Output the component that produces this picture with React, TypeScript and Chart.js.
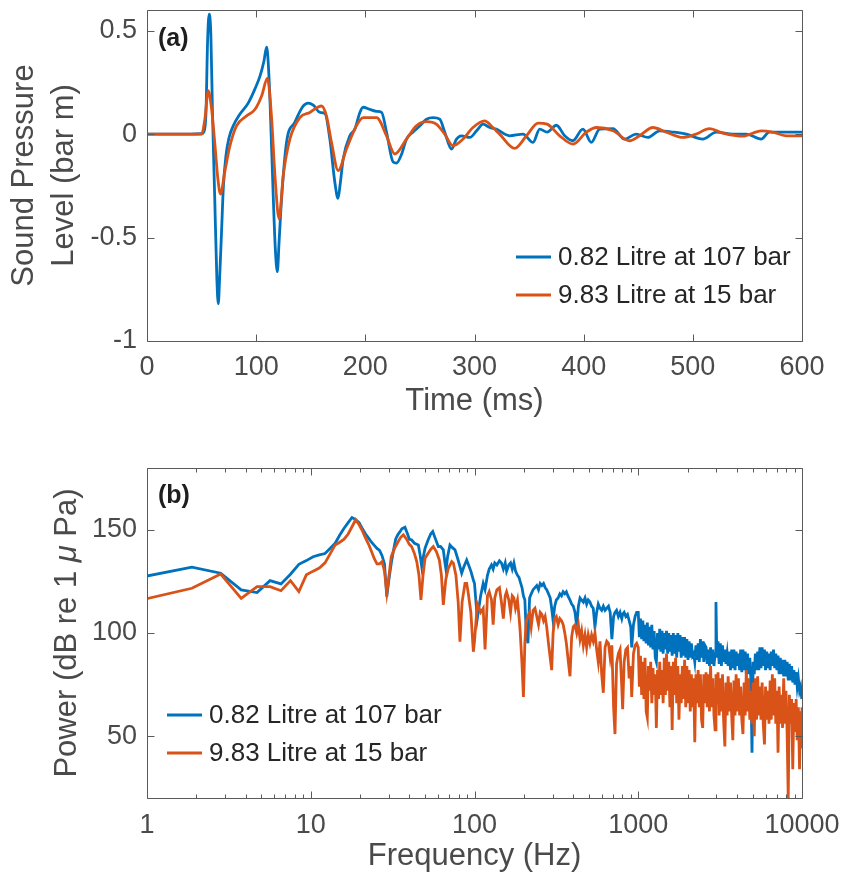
import React, { useEffect, useRef } from 'react';
import { Chart, registerables } from 'chart.js';
Chart.register(...registerables);

// ---------- Panel (a): time series ----------
const seriesLabels = ['0.82 Litre at 107 bar', '9.83 Litre at 15 bar'];

const timeBlue = [
  0, 20, 40, 50, 52, 54, 55.5, 57, 58.5, 60,
  62, 64, 65.3, 66.5, 68.3, 70, 72.3, 75, 79, 85,
  92.7, 99, 103.5, 107, 109.6, 111, 112.6, 115.7, 117.5, 119.4,
  121, 123.3, 127.8, 135.4, 143, 147.6, 152.3, 158.4, 163, 167.5,
  172, 175, 177, 179.7, 185.8, 190.4, 195, 198, 204, 210.3,
  214.9, 219.4, 225.5, 228.5, 233, 237.7, 243.8, 250, 256, 262,
  268.2, 272.7, 278.9, 283.5, 287.9, 295.8, 301.9, 307.9, 314, 320,
  332, 344.5, 353.6, 359.7, 366.5, 375, 382.6, 390, 399.3, 407,
  414.6, 426.8, 437.5, 448, 458.8, 469.6, 481.8, 494, 509, 521.5,
  536.7, 548.9, 562.6, 570, 585.5, 600,
];
const pressureBlue = [
  0, 0, 0, 0.002, 0.01, 0.1, 0.45, 0.58, 0.48, 0.1,
  -0.3, -0.7, -0.82, -0.7, -0.47, -0.25, -0.105, -0.02, 0.04, 0.096,
  0.15, 0.22, 0.28, 0.35, 0.42, 0.35, 0.17, -0.31, -0.55, -0.665,
  -0.52, -0.31, -0.04, 0.057, 0.135, 0.15, 0.14, 0.105, 0.1, -0.024,
  -0.23, -0.31, -0.24, -0.12, -0.008, 0.024, 0.105, 0.13, 0.12, 0.11,
  0.105, 0.01, -0.135, -0.14, -0.1, -0.024, 0.01, 0.04, 0.072, 0.08,
  0.072, 0.01, -0.072, -0.024, -0.008, -0.016, 0.016, 0.048, 0.032, 0.024,
  -0.008, 0.0, -0.04, 0.024, 0.01, 0.043, -0.008, -0.032, 0.024, -0.04,
  0.024, 0.027, -0.024, 0.0, -0.016, 0.016, 0.01, 0.0, -0.024, 0.01,
  0.0, 0.0, -0.024, 0.01, 0.01, 0.01,
];

const timeOrange = [
  0, 50, 53, 56.1, 59.2, 62.3, 65, 67.3, 71.3, 76,
  82, 91.2, 99, 105, 110.3, 114, 117.2, 121, 124.8, 130.9,
  140, 149.2, 159.9, 164.4, 169, 175.1, 182.7, 191.8, 198, 210.3,
  219.4, 227, 237.7, 246.8, 256, 265, 272.7, 280.3, 289.5, 298.6,
  309.3, 316.9, 323, 336.9, 347.6, 358.3, 366.5, 378, 390.3, 402.5,
  411.7, 426.8, 442, 451.2, 463.4, 475.6, 490.9, 503, 515.3, 527.5,
  545.8, 562.6, 573, 585.5, 600,
];
const pressureOrange = [
  0, 0, 0.072, 0.21, 0.12, -0.056, -0.22, -0.29, -0.18, -0.056,
  0.04, 0.088, 0.12, 0.184, 0.27, 0.088, -0.2, -0.41, -0.2, -0.024,
  0.08, 0.105, 0.136, 0.088, -0.04, -0.176, -0.072, 0.04, 0.08, 0.08,
  -0.008, -0.096, -0.024, 0.04, 0.06, 0.048, 0.0, -0.056, -0.024, 0.032,
  0.064, 0.032, 0.0, -0.069, -0.008, 0.053, 0.048, -0.008, -0.048, 0.01,
  0.032, 0.016, -0.032, -0.008, 0.032, 0.01, -0.016, 0.0, 0.027, 0.005,
  -0.01, 0.016, 0.01, -0.008, -0.008,
];

const timeTicks = [0, 100, 200, 300, 400, 500, 600];
const pressureTicks = [-1, -0.5, 0, 0.5];

// ---------- Panel (b): spectrum ----------
const freqLowBlue = [
  0.94, 1.88, 2.82, 3.76, 4.7, 5.64, 6.58, 7.52, 8.46, 9.4,
  10.34, 11.28, 12.22, 13.16, 14.1, 15.04, 15.98, 16.92, 17.86, 18.8,
  19.74, 20.68, 21.62, 22.56, 23.5, 24.44, 25.38, 26.32, 27.26, 28.2,
  29.14, 30.08, 31.02, 32.0, 33.0, 34.0, 35.0, 36.0, 37.6, 39.0,
  40.0, 41.3, 43.0, 45.4, 46.5, 47.6, 48.7, 49.9, 52.0, 54.0,
  55.6, 57.5, 60.1, 62.0, 64.5, 66.0, 67.0, 68.5, 70.8, 73.0,
  76.0, 79.0, 81.0, 83.5, 86.0, 89.6, 92.0, 95.0, 98.4,
];
const powerLowBlue = [
  127.2, 131.9, 129.0, 120.9, 119.6, 125.4, 123.8, 128.5, 133.3, 135.1,
  137.0, 137.9, 138.5, 141.1, 143.5, 147.5, 150.8, 153.5, 156.0, 155.0,
  153.5, 150.5, 148.0, 146.0, 144.0, 142.5, 141.0, 140.0, 137.5, 133.5,
  117.6, 126.5, 133.8, 140, 145.5, 147.6, 149, 150.5, 151.3, 148,
  145.5, 145.1, 143.5, 142.7, 138, 132.2, 137, 141.1, 145, 148,
  149.2, 146, 141.9, 142, 140.3, 134, 130.6, 137, 142.7, 141.5,
  140.3, 136, 133, 129, 132, 135.4, 133, 130, 125.7,
];

const freqLowOrange = [
  0.94, 1.88, 2.82, 3.76, 4.7, 5.64, 6.58, 7.52, 8.46, 9.4,
  10.34, 11.28, 12.22, 13.16, 14.1, 15.04, 15.98, 16.92, 17.86, 18.8,
  19.74, 20.68, 21.62, 22.56, 23.5, 24.44, 25.38, 26.32, 27.26, 28.2,
  29.14, 30.08, 31.02, 32.5, 34.0, 35.5, 36.8, 38.5, 40.0, 41.3,
  43.0, 44.4, 45.8, 47.1, 48.5, 49.9, 52.0, 54.0, 56.0, 58.5,
  61.0, 62.8, 64.5, 66.8, 69.2, 72.6, 74.3, 77.0, 79.5, 81.5,
  84.0, 87.5, 89.6, 91.6, 95.0, 98.4,
];
const powerLowOrange = [
  116.2, 121.7, 128.6, 116.8, 122.5, 122.5, 120.5, 125.4, 120.1, 128.2,
  130.0, 131.5, 134.0, 138.5, 142.7, 144.0, 145.5, 148.0, 151.5, 154.9,
  152.5, 149.5, 146.0, 143.0, 139.5, 136.0, 133.5, 133.5, 134.6, 130,
  119.3, 128, 137, 141, 144, 146.5, 147.6, 145.5, 143, 141.9,
  138.5, 134.6, 128, 116, 128, 136.3, 138.5, 140.5, 141.9, 139.5,
  135.4, 128, 113.6, 126, 131.4, 134.6, 133.8, 128, 115, 95.8,
  115, 124.1, 124.1, 119.3, 110, 90.9,
];

// mid band, 100 Hz .. 1 kHz (shared frequency list)
const freqMid = [
  100, 104, 109, 113, 116, 120, 123, 127, 130, 133,
  137, 142, 146, 150, 154, 157, 162, 166, 170, 174,
  178, 183, 187, 190, 195, 199, 203, 207, 212, 217,
  222, 228, 234, 240, 246, 252, 258, 264, 270, 276,
  283, 290, 296, 302, 309, 316, 324, 332, 340, 348,
  356, 364, 372, 383, 392, 401, 411, 421, 431, 441,
  451, 462, 473, 484, 495, 507, 519, 531, 544, 557,
  570, 584, 598, 612, 627, 642, 658, 674, 690, 707,
  721, 737, 756, 774, 793, 803, 820, 840, 860, 880,
  900, 912, 935, 957, 978,
];
const powerMidBlue = [
  124, 107, 118, 124, 121, 128, 131, 133, 131, 134,
  133, 135, 134, 131, 134, 130, 133, 134, 131, 134,
  130, 128, 127, 125, 122, 118, 116, 100, 95, 117,
  119, 121, 122, 123, 121, 124, 123, 124, 122, 121,
  119, 117, 112, 106, 113, 116, 117, 119, 118, 120,
  119, 120, 118, 116, 114, 113, 110, 103, 113, 117,
  116, 115, 117, 114, 116, 115, 113, 112, 103, 110,
  114, 112, 111, 113, 111, 112, 113, 110, 97, 108,
  110, 111, 108, 110, 107, 109, 110, 108, 109, 106,
  103, 93, 104, 108, 110,
];
const powerMidOrange = [
  96, 114, 110, 112, 92, 118, 120, 116, 104, 117,
  121, 122, 115, 107, 118, 120, 116, 110, 118, 117,
  112, 116, 108, 101, 85, 69, 95, 106, 108, 110,
  103, 111, 112, 108, 104, 110, 109, 106, 108, 103,
  95, 88, 82, 100, 107, 108, 104, 107, 106, 104,
  100, 95, 88, 79, 98, 103, 104, 100, 104, 97,
  101, 94, 99, 93, 99, 95, 99, 96, 100, 92,
  86, 96, 80, 71, 93, 96, 95, 88, 94, 64,
  51, 85, 90, 92, 74, 63, 86, 92, 93, 78,
  84, 69, 90, 94, 95,
];

// high band, 1 kHz .. 10 kHz (shared frequency list)
const freqHigh = [
  1000, 1016, 1032, 1049, 1066, 1083, 1100, 1118, 1136, 1154,
  1172, 1191, 1210, 1230, 1250, 1270, 1290, 1311, 1332, 1353,
  1375, 1397, 1419, 1442, 1465, 1488, 1512, 1536, 1561, 1586,
  1611, 1637, 1663, 1690, 1717, 1745, 1773, 1801, 1830, 1859,
  1889, 1919, 1950, 1981, 2013, 2045, 2078, 2111, 2145, 2179,
  2214, 2250, 2286, 2322, 2359, 2397, 2435, 2474, 2514, 2554,
  2595, 2637, 2679, 2722, 2765, 2809, 2854, 2900, 2946, 2983,
  3020, 3070, 3120, 3170, 3220, 3270, 3320, 3380, 3430, 3490,
  3540, 3600, 3660, 3720, 3780, 3840, 3900, 3960, 4030, 4090,
  4160, 4220, 4290, 4360, 4430, 4500, 4570, 4650, 4720, 4800,
  4870, 4950, 5030, 5110, 5190, 5280, 5360, 5450, 5530, 5620,
  5710, 5800, 5900, 5990, 6090, 6190, 6290, 6390, 6490, 6590,
  6700, 6810, 6920, 7030, 7140, 7250, 7370, 7490, 7610, 7730,
  7850, 7980, 8110, 8240, 8370, 8500, 8640, 8780, 8920, 9060,
  9210, 9350, 9500, 9660, 9810, 9970, 10000,
];
const powerHighBlue = [
  110, 98, 107, 97, 106, 96, 104, 95, 105, 94,
  103, 93, 104, 92, 101, 88, 86, 100, 92, 102,
  91, 101, 90, 100, 92, 101, 90, 100, 91, 99,
  89, 100, 90, 99, 88, 100, 91, 99, 88, 98,
  89, 98, 88, 97, 87, 96, 88, 95, 89, 90,
  86, 94, 87, 95, 86, 97, 88, 96, 86, 94,
  93, 85, 92, 84, 93, 85, 92, 84, 90, 115,
  88, 96, 85, 95, 84, 94, 86, 92, 85, 90,
  84, 91, 82, 92, 83, 92, 82, 91, 84, 90,
  82, 92, 81, 92, 82, 91, 80, 90, 80, 88,
  78, 42, 86, 80, 90, 82, 91, 82, 93, 83,
  93, 84, 92, 82, 91, 83, 90, 82, 91, 84,
  92, 83, 90, 82, 89, 80, 88, 80, 87, 79,
  87, 79, 86, 77, 85, 77, 84, 76, 82, 75,
  81, 74, 78, 72, 74, 68, 70,
];
const powerHighOrange = [
  93, 74, 89, 70, 86, 68, 88, 62, 59, 84,
  72, 86, 66, 83, 70, 80, 54, 82, 68, 86,
  70, 82, 66, 88, 70, 90, 72, 86, 64, 84,
  53, 86, 70, 88, 66, 84, 58, 80, 66, 84,
  68, 87, 64, 84, 66, 82, 62, 80, 64, 78,
  47, 80, 66, 82, 64, 80, 58, 54, 80, 66,
  81, 64, 80, 62, 84, 64, 78, 60, 53, 80,
  66, 81, 60, 78, 62, 80, 58, 45, 76, 60,
  79, 62, 76, 60, 48, 77, 60, 80, 62, 78,
  60, 74, 58, 51, 76, 60, 82, 62, 78, 58,
  72, 56, 76, 50, 78, 58, 79, 60, 74, 58,
  76, 56, 46, 74, 58, 72, 56, 77, 58, 80,
  60, 78, 56, 72, 42, 74, 56, 70, 54, 78,
  56, 72, 52, 20, 70, 56, 68, 34, 66, 52,
  68, 48, 64, 34, 62, 44, 64,
];

const freqTicks = [1, 10, 100, 1000, 10000];
const powerTicks = [50, 100, 150];

// ---------- styling ----------
const FONT = "'Liberation Sans', Arial, Helvetica, sans-serif";
const TICK_COLOR = '#4a4a4a';
const LEGEND_COLOR = '#262626';
const BLUE = '#0072BD';
const ORANGE = '#D95319';

function toPoints(xs: number[], ys: number[]) {
  return xs.map((x, i) => ({ x, y: ys[i] }));
}

const matlabAxes = {
  id: 'matlabAxes',
  afterDraw(chart: any, _args: any, opts: any) {
    const { ctx, chartArea } = chart;
    const { left, right, top, bottom } = chartArea;
    const xs = chart.scales.x;
    const ys = chart.scales.y;
    const L = Math.floor(left) + 0.5;
    const R = Math.floor(right) + 0.5;
    const T = Math.floor(top) + 0.5;
    const B = Math.floor(bottom) + 0.5;
    ctx.save();
    ctx.strokeStyle = '#5a5a5a';
    ctx.lineWidth = 1;
    ctx.beginPath();
    ctx.rect(L, T, R - L, B - T);
    const major = 7;
    const minor = 4;
    const vtick = (v: number, len: number) => {
      const p = Math.round(xs.getPixelForValue(v)) + 0.5;
      ctx.moveTo(p, B); ctx.lineTo(p, B - len);
      ctx.moveTo(p, T); ctx.lineTo(p, T + len);
    };
    const htick = (v: number, len: number) => {
      const p = Math.round(ys.getPixelForValue(v)) + 0.5;
      ctx.moveTo(L, p); ctx.lineTo(L + len, p);
      ctx.moveTo(R, p); ctx.lineTo(R - len, p);
    };
    xs.ticks.forEach((t: any) => vtick(t.value, major));
    ys.ticks.forEach((t: any) => htick(t.value, major));
    if (opts.logMinor) {
      for (let d = 1; d < 10000; d *= 10) {
        for (let m = 2; m <= 9; m++) vtick(m * d, minor);
      }
    }
    ctx.stroke();

    // custom y title with mixed fonts (italic mu)
    if (opts.yTitle) {
      const segs = opts.yTitle as { text: string; italic?: boolean }[];
      ctx.save();
      ctx.translate(opts.yTitleX, (top + bottom) / 2);
      ctx.rotate(-Math.PI / 2);
      ctx.fillStyle = TICK_COLOR;
      ctx.textBaseline = 'middle';
      ctx.textAlign = 'left';
      const fontOf = (s: any) => `${s.italic ? 'italic ' : ''}31px ${FONT}`;
      let total = 0;
      segs.forEach((s) => { ctx.font = fontOf(s); total += ctx.measureText(s.text).width; });
      let x = -total / 2;
      segs.forEach((s) => {
        ctx.font = fontOf(s);
        ctx.fillText(s.text, x, 0);
        x += ctx.measureText(s.text).width;
      });
      ctx.restore();
    }

    // panel label
    ctx.fillStyle = '#1e1e1e';
    ctx.font = `bold 25px ${FONT}`;
    ctx.textBaseline = 'middle';
    ctx.textAlign = 'left';
    ctx.fillText(opts.label, opts.labelX, opts.labelY);

    // legend
    const lg = opts.legend;
    ctx.font = `26px ${FONT}`;
    chart.data.datasets.forEach((ds: any, i: number) => {
      const y = lg.y + i * lg.gap;
      ctx.strokeStyle = ds.borderColor;
      ctx.lineWidth = 3;
      ctx.beginPath();
      ctx.moveTo(lg.x, y);
      ctx.lineTo(lg.x + 35, y);
      ctx.stroke();
      ctx.fillStyle = LEGEND_COLOR;
      ctx.fillText(ds.label, lg.x + 42, y + 1);
    });
    ctx.restore();
  },
};

function scaleTitle(text: any, pad: any) {
  return {
    display: true,
    text,
    color: TICK_COLOR,
    font: { family: FONT, size: 31, lineHeight: 1.3 },
    padding: pad,
  };
}

const tickFont = { family: FONT, size: 27 };

function fitX(h: number) {
  return (s: any) => {
    s.height = h;
    s.paddingLeft = 0;
    s.paddingRight = 0;
  };
}
function fitY(w: number) {
  return (s: any) => {
    s.width = w;
    s.paddingTop = 0;
    s.paddingBottom = 0;
  };
}

function configA(): any {
  return {
    type: 'line',
    data: {
      datasets: [
        {
          label: seriesLabels[0],
          data: toPoints(timeBlue, pressureBlue),
          borderColor: BLUE,
          borderWidth: 2.8,
          pointRadius: 0,
          cubicInterpolationMode: 'monotone',
          order: 1,
        },
        {
          label: seriesLabels[1],
          data: toPoints(timeOrange, pressureOrange),
          borderColor: ORANGE,
          borderWidth: 2.8,
          pointRadius: 0,
          cubicInterpolationMode: 'monotone',
          order: 0,
        },
      ],
    },
    options: {
      responsive: false,
      animation: false,
      devicePixelRatio: 1,
      events: [],
      layout: { padding: { left: 0, right: 39, top: 10, bottom: 0 } },
      plugins: {
        legend: { display: false },
        tooltip: { enabled: false },
        matlabAxes: {
          label: '(a)', labelX: 158, labelY: 39,
          legend: { x: 516, y: 257, gap: 38 },
        },
      },
      scales: {
        x: {
          type: 'linear',
          min: 0,
          max: 600,
          grid: { display: false, drawTicks: false },
          border: { display: false },
          afterBuildTicks: (s: any) => { s.ticks = timeTicks.map((v) => ({ value: v })); },
          afterFit: fitX(98),
          ticks: {
            color: TICK_COLOR, font: tickFont, padding: 10,
            maxRotation: 0, autoSkip: false,
            callback: (v: any) => String(v),
          },
          title: scaleTitle('Time (ms)', { top: 0, bottom: 17 }),
        },
        y: {
          type: 'linear',
          min: -1,
          max: 0.6,
          grid: { display: false, drawTicks: false },
          border: { display: false },
          afterBuildTicks: (s: any) => { s.ticks = pressureTicks.map((v) => ({ value: v })); },
          afterFit: fitY(147),
          ticks: {
            color: TICK_COLOR, font: tickFont, padding: 10, autoSkip: false,
            callback: (v: any) => String(v),
          },
          title: scaleTitle(['Sound Pressure', 'Level (bar m)'], { top: 4, bottom: 0 }),
        },
      },
    },
    plugins: [matlabAxes],
  };
}

function configB(): any {
  return {
    type: 'line',
    data: {
      datasets: [
        {
          label: seriesLabels[0],
          data: toPoints(
            freqLowBlue.concat(freqMid, freqHigh),
            powerLowBlue.concat(powerMidBlue, powerHighBlue),
          ),
          borderColor: BLUE,
          borderWidth: 2.8,
          pointRadius: 0,
          tension: 0,
          order: 1,
        },
        {
          label: seriesLabels[1],
          data: toPoints(
            freqLowOrange.concat(freqMid, freqHigh),
            powerLowOrange.concat(powerMidOrange, powerHighOrange),
          ),
          borderColor: ORANGE,
          borderWidth: 2.8,
          pointRadius: 0,
          tension: 0,
          order: 0,
        },
      ],
    },
    options: {
      responsive: false,
      animation: false,
      devicePixelRatio: 1,
      events: [],
      layout: { padding: { left: 0, right: 39, top: 29, bottom: 0 } },
      plugins: {
        legend: { display: false },
        tooltip: { enabled: false },
        matlabAxes: {
          label: '(b)', labelX: 158, labelY: 57,
          logMinor: true,
          legend: { x: 167, y: 276, gap: 38 },
          yTitle: [
            { text: 'Power (dB re 1 ' },
            { text: '\u03bc', italic: true },
            { text: ' Pa)' },
          ],
          yTitleX: 67,
        },
      },
      scales: {
        x: {
          type: 'logarithmic',
          min: 1,
          max: 10000,
          grid: { display: false, drawTicks: false },
          border: { display: false },
          afterBuildTicks: (s: any) => { s.ticks = freqTicks.map((v) => ({ value: v })); },
          afterFit: fitX(80),
          ticks: {
            color: TICK_COLOR, font: tickFont, padding: 11,
            maxRotation: 0, autoSkip: false,
            callback: (v: any) => String(v),
          },
          title: scaleTitle('Frequency (Hz)', { top: 0, bottom: 1 }),
        },
        y: {
          type: 'linear',
          min: 20,
          max: 180,
          grid: { display: false, drawTicks: false },
          border: { display: false },
          afterBuildTicks: (s: any) => { s.ticks = powerTicks.map((v) => ({ value: v })); },
          afterFit: fitY(147),
          ticks: {
            color: TICK_COLOR, font: tickFont, padding: 10, autoSkip: false,
            callback: (v: any) => String(v),
          },
          title: { display: false },
        },
      },
    },
    plugins: [matlabAxes],
  };
}

export default function App() {
  const refA = useRef<HTMLCanvasElement>(null);
  const refB = useRef<HTMLCanvasElement>(null);
  useEffect(() => {
    const a = new Chart(refA.current as HTMLCanvasElement, configA());
    const b = new Chart(refB.current as HTMLCanvasElement, configB());
    return () => {
      a.destroy();
      b.destroy();
    };
  }, []);
  return (
    <div style={{ position: 'absolute', left: 0, top: 0, width: 841, height: 878, background: '#fff' }}>
      <canvas ref={refA} width={841} height={439} style={{ position: 'absolute', left: 0, top: 0 }} />
      <canvas ref={refB} width={841} height={439} style={{ position: 'absolute', left: 0, top: 439 }} />
    </div>
  );
}
